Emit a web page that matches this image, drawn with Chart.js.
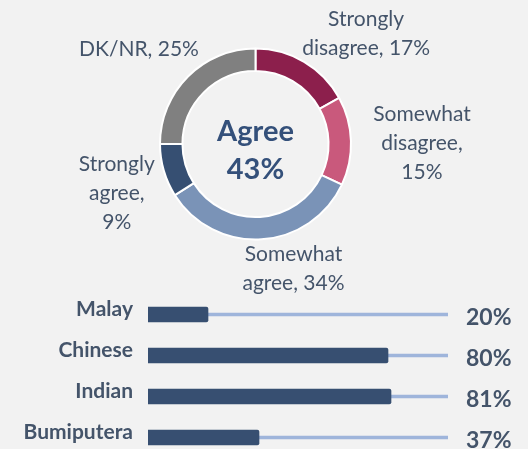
<!DOCTYPE html>
<html>
<head>
<meta charset="utf-8">
<script src="https://cdn.jsdelivr.net/npm/chart.js@4.4.1/dist/chart.umd.min.js"></script>
<style>
    html, body { margin: 0; padding: 0; background: #f2f2f2; width: 528px; height: 449px; overflow: hidden; }
    #donutWrap { position: absolute; left: 0; top: 0; width: 528px; height: 295px; }
    #barWrap { position: absolute; left: 0; top: 294px; width: 528px; height: 164px; }
</style>
</head>
<body>
<div id="donutWrap"><canvas id="donut"></canvas></div>
<div id="barWrap"><canvas id="bars"></canvas></div>
<script>
// donut data
const answers = ['Strongly disagree', 'Somewhat disagree', 'Somewhat agree', 'Strongly agree', 'DK/NR'];
const answerShares = [17, 15, 34, 9, 25];
const centerLabel = 'Agree';

// bar data
const groups = ['Malay', 'Chinese', 'Indian', 'Bumiputera'];
const groupShares = [20, 80, 81, 37];
const trackMax = [100, 100, 100, 100];

// styling
const sliceColors = ['#8c1f4c', '#c9597c', '#7a93b7', '#364f72', '#808080'];
const textColor = '#44546a';
const centerColor = '#34507a';
const barColor = '#374f71';
const trackColor = '#9fb5db';

// word index after which the label wraps
const labelBreaks = [[0], [0, 1], [0], [0, 1], []];
// where the label sits relative to the outer middle of its slice
const labelNudge = [[62, -28], [71, 2], [32, 29], [-47, 23], [-49, -27]];

function wrapLabel(i) {
    const words = (answers[i] + ', ' + answerShares[i] + '%').split(' ');
    const lines = [];
    let cur = [];
    words.forEach((w, k) => {
        cur.push(w);
        if (labelBreaks[i].includes(k)) {
            lines.push(cur.join(' '));
            cur = [];
        }
    });
    if (cur.length) lines.push(cur.join(' '));
    return lines;
}

const donutLabels = {
    id: 'donutLabels',
    afterDraw(chart) {
        const ctx = chart.ctx;
        const arcs = chart.getDatasetMeta(0).data;
        ctx.save();
        ctx.fillStyle = textColor;
        ctx.font = '21px Lato';
        ctx.textAlign = 'center';
        ctx.textBaseline = 'middle';
        arcs.forEach((arc, i) => {
            const mid = (arc.startAngle + arc.endAngle) / 2;
            const cx = arc.x + Math.cos(mid) * arc.outerRadius + labelNudge[i][0];
            const cy = arc.y + Math.sin(mid) * arc.outerRadius + labelNudge[i][1];
            const lines = wrapLabel(i);
            lines.forEach((line, k) => {
                ctx.fillText(line, cx, cy + (k - (lines.length - 1) / 2) * 29);
            });
        });

        // total agree in the hole
        const agree = answerShares[answers.indexOf('Strongly agree')] + answerShares[answers.indexOf('Somewhat agree')];
        const c = arcs[0];
        ctx.fillStyle = centerColor;
        ctx.font = 'bold 29px Lato';
        ctx.textBaseline = 'alphabetic';
        ctx.fillText(centerLabel, c.x, c.y - 3);
        ctx.fillText(agree + '%', c.x, c.y + 34.5);
        ctx.restore();
    }
};

const barLabels = {
    id: 'barLabels',
    afterDraw(chart) {
        const ctx = chart.ctx;
        const bars = chart.getDatasetMeta(1).data;
        ctx.save();
        ctx.fillStyle = textColor;
        ctx.textBaseline = 'middle';
        bars.forEach((bar, i) => {
            ctx.font = 'bold 21px Lato';
            ctx.textAlign = 'right';
            ctx.fillText(groups[i], 133, bar.y - 5);
            ctx.font = 'bold 23px Lato';
            ctx.textAlign = 'left';
            ctx.fillText(groupShares[i] + '%', 466, bar.y + 3);
        });
        ctx.restore();
    }
};

window.onload = () => {
    new Chart(document.getElementById('donut'), {
        type: 'doughnut',
        data: {
            labels: answers,
            datasets: [{
                data: answerShares,
                backgroundColor: sliceColors,
                borderColor: '#ffffff',
                borderWidth: 2,
                hoverOffset: 0
            }]
        },
        options: {
            responsive: true,
            maintainAspectRatio: false,
            animation: false,
            radius: 95.5,
            cutout: '76.5%',
            layout: { padding: { left: 0, right: 17, top: 0, bottom: 7 } },
            plugins: {
                legend: { display: false },
                tooltip: { enabled: false }
            }
        },
        plugins: [donutLabels]
    });

    new Chart(document.getElementById('bars'), {
        type: 'bar',
        data: {
            labels: groups,
            datasets: [
                { data: trackMax, backgroundColor: trackColor, barThickness: 3, grouped: false, order: 2 },
                { data: groupShares, backgroundColor: barColor, barThickness: 15, borderRadius: 2, grouped: false, order: 1 }
            ]
        },
        options: {
            indexAxis: 'y',
            responsive: true,
            maintainAspectRatio: false,
            animation: false,
            layout: { padding: { left: 148, right: 80, top: 0, bottom: 0 } },
            scales: {
                x: { display: false, min: 0, max: 100 },
                y: { display: false }
            },
            plugins: {
                legend: { display: false },
                tooltip: { enabled: false }
            }
        },
        plugins: [barLabels]
    });
};
</script>
</body>
</html>
